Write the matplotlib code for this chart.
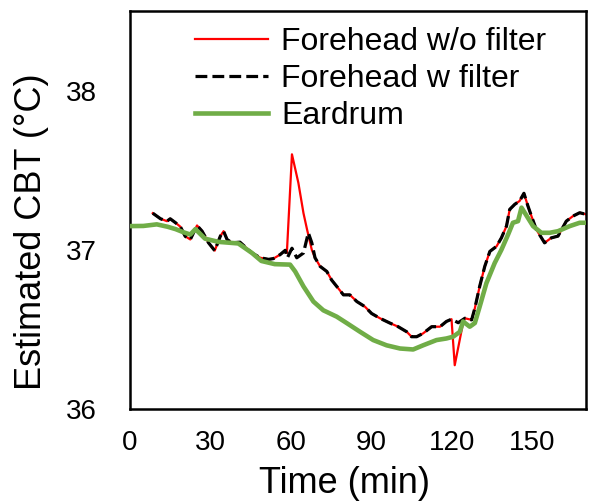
import matplotlib
matplotlib.use("Agg")
import matplotlib.pyplot as plt

plt.rcParams['font.family'] = ['Liberation Sans', 'DejaVu Sans']

# Forehead with filter (black dashed)
t_filt = [8.5, 11.4, 13.8, 15, 17, 18.8, 20.6, 22.5, 25, 26.9, 29.3, 31.6, 33.7, 34.9, 36.2, 38,
          41, 45.5, 48.6, 51.7, 53.5, 56, 57.9, 58.7, 60.4, 62.2, 64.7, 66.5, 67.8, 69, 70.9, 73.4,
          75.2, 77.1, 79.6, 82, 84.6, 87.6, 90.1, 93.2, 96.9, 100, 103.2, 105, 106.9, 109.3, 112.5,
          115.6, 118, 119.9, 122.4, 124.9, 127.4, 128.6, 130.4, 132.3, 134.2, 136.7, 138.5, 140.4,
          141.6, 143.5, 145.3, 146.9, 148.4, 149.7, 151.5, 154.6, 157.1, 159.6, 162.7, 165.2,
          167.7, 170]
v_filt = [37.23, 37.195, 37.18, 37.195, 37.17, 37.145, 37.085, 37.065, 37.153, 37.117, 37.044,
          36.995, 37.086, 37.117, 37.065, 37.044, 37.048, 36.98, 36.95, 36.94, 36.945, 36.97, 36.997,
          36.95, 37.01, 36.95, 36.98, 37.107, 37.044, 36.95, 36.896, 36.864, 36.81, 36.77, 36.717,
          36.717, 36.675, 36.643, 36.6, 36.57, 36.54, 36.517, 36.485, 36.454, 36.454, 36.475,
          36.517, 36.517, 36.55, 36.564, 36.542, 36.57, 36.56, 36.633, 36.77, 36.896, 36.99,
          37.022, 37.075, 37.149, 37.254, 37.286, 37.307, 37.355, 37.275, 37.212, 37.128, 37.044,
          37.075, 37.086, 37.18, 37.212, 37.233, 37.223]

# Forehead without filter (red)
t_raw = [8.5, 11.4, 13.8, 15, 17, 18.8, 20.6, 22.5, 25, 26.9, 29.3, 31.6, 33.7, 34.9, 36.2, 38,
         41, 45.5, 48.6, 51.7, 53.5, 56, 57.9, 58.5, 60.4, 62.8, 64.7, 66, 67.8, 69, 70.9, 73.4,
         75.2, 77.1, 79.6, 82, 84.6, 87.6, 90.1, 93.2, 96.9, 100, 103.2, 105, 106.9, 109.3, 112.5,
         115.6, 118, 119.9, 121.1, 124.2, 124.9, 127.4, 128.6, 130.4, 132.3, 134.2, 136.7, 138.5,
         140.4, 141.6, 143.5, 145.3, 146.9, 148.4, 149.7, 151.5, 154.6, 157.1, 159.6, 162.7,
         165.2, 167.7, 170]
v_raw = [37.23, 37.195, 37.18, 37.195, 37.17, 37.145, 37.085, 37.065, 37.153, 37.117, 37.044,
         36.995, 37.086, 37.117, 37.065, 37.044, 37.048, 36.98, 36.95, 36.94, 36.945, 36.97, 36.997,
         36.98, 37.60, 37.42, 37.23, 37.13, 37.0, 36.95, 36.896, 36.864, 36.81, 36.77, 36.717,
         36.717, 36.675, 36.643, 36.6, 36.57, 36.54, 36.517, 36.485, 36.454, 36.454, 36.475,
         36.517, 36.517, 36.55, 36.564, 36.275, 36.54, 36.57, 36.56, 36.633, 36.77, 36.896, 36.99,
         37.022, 37.075, 37.149, 37.254, 37.286, 37.307, 37.355, 37.275, 37.212, 37.128, 37.044,
         37.075, 37.086, 37.18, 37.212, 37.233, 37.223]

# Eardrum (green)
t_ear = [0, 5, 10, 14, 17, 20, 22.5, 24.4, 28, 33, 40.4, 45.5, 49, 54, 59.7, 61.6, 64.7, 68.4,
         72.1, 77.1, 80.8, 85.8, 90.7, 95.7, 100.7, 105.6, 109.3, 114.3, 118, 120.5, 123, 124.2,
         126.7, 128.6, 130.4, 132.9, 136, 138.5, 141, 142.8, 144.7, 146, 147.2, 150.3, 153.4,
         156.5, 159.6, 164, 167.7, 170]
v_ear = [37.149, 37.15, 37.16, 37.145, 37.13, 37.11, 37.096, 37.13, 37.07, 37.05, 37.04, 36.98,
         36.93, 36.91, 36.907, 36.864, 36.77, 36.675, 36.62, 36.58, 36.54, 36.485, 36.433, 36.40,
         36.38, 36.374, 36.40, 36.433, 36.443, 36.454, 36.485, 36.55, 36.517, 36.54, 36.643, 36.79,
         36.917, 37.0, 37.096, 37.17, 37.18, 37.265, 37.233, 37.149, 37.107, 37.107, 37.117,
         37.149, 37.17, 37.17]

x_ticks = [0, 30, 60, 90, 120, 150]
y_ticks = [36, 37, 38]

fig = plt.figure(figsize=(5.9, 5.03), dpi=100)
ax = fig.add_axes([0.2203, 0.1869, 0.7727, 0.7911])

ax.plot(t_raw, v_raw, color='#FF0000', lw=1.6, label='Forehead w/o filter', zorder=2)
ax.plot(t_filt, v_filt, color='black', lw=2.3, ls='--', label='Forehead w filter', zorder=3)
ax.plot(t_ear, v_ear, color='#70AD47', lw=3.3, label='Eardrum', zorder=4)

ax.set_xlim(0, 170)
ax.set_ylim(36, 38.5)
ax.set_xticks(x_ticks)
ax.set_yticks(y_ticks)
ax.tick_params(axis='both', length=0, labelsize=20)
ax.tick_params(axis='x', pad=15)
ax.tick_params(axis='y', pad=24)
for s in ax.spines.values():
    s.set_linewidth(1.8)

ax.set_xlabel('Time (min)', fontsize=26)
ax.xaxis.set_label_coords(0.471, -0.186)
ax.xaxis.label.set_verticalalignment('center')
ax.set_ylabel('Estimated CBT (°C)', fontsize=26)
ax.yaxis.set_label_coords(-0.215, 0.445)
ax.yaxis.label.set_verticalalignment('center')

ax.legend(loc='upper left', bbox_to_anchor=(0.1425, 0.96), frameon=False, fontsize=23,
          handlelength=2.3, handletextpad=0.4, labelspacing=0.22, borderpad=0, borderaxespad=0)

fig.savefig('out.png', dpi=100)
